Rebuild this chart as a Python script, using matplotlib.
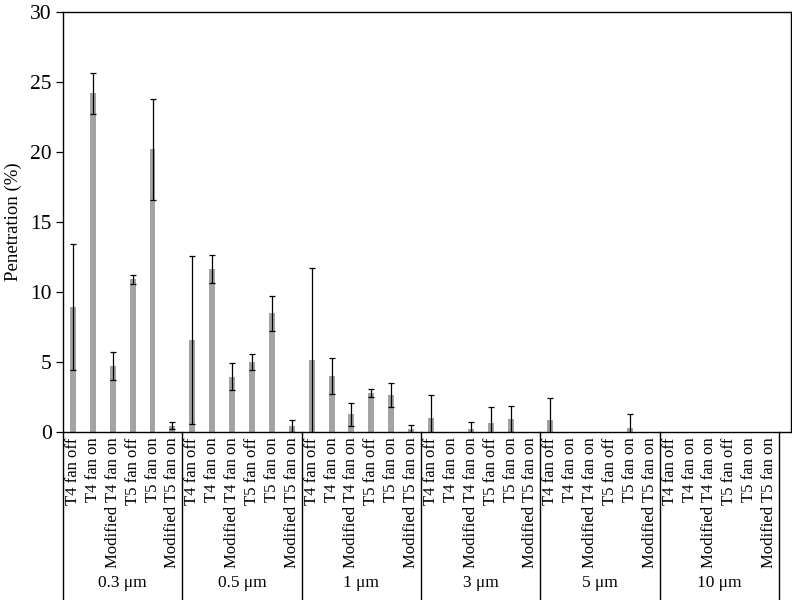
import matplotlib
matplotlib.use('Agg')
import matplotlib.pyplot as plt
import numpy as np

plt.rcParams['font.family'] = ['Liberation Serif', 'DejaVu Serif']

# 数据：各粒径组 × 6 种工况
sizes = ['0.3 μm', '0.5 μm', '1 μm', '3 μm', '5 μm', '10 μm']
conditions = ['T4 fan off', 'T4 fan on', 'Modified T4 fan on',
              'T5 fan off', 'T5 fan on', 'Modified T5 fan on']

pen_03 = [8.9, 24.2, 4.75, 10.9, 20.2, 0.45]
err_03 = [4.5, 1.45, 1.0, 0.3, 3.6, 0.25]
pen_05 = [6.6, 11.67, 3.95, 5.0, 8.5, 0.43]
err_05 = [6.0, 1.0, 0.95, 0.6, 1.25, 0.43]
pen_1 = [5.14, 4.0, 1.26, 2.76, 2.67, 0.21]
err_1 = [6.6, 1.3, 0.8, 0.28, 0.85, 0.3]
pen_3 = [0.98, 0.0, 0.21, 0.64, 0.93, 0.0]
err_3 = [1.65, 0.0, 0.52, 1.16, 0.93, 0.0]
pen_5 = [0.86, 0.0, 0.0, 0.0, 0.31, 0.0]
err_5 = [1.55, 0.0, 0.0, 0.0, 0.98, 0.0]
pen_10 = [0.0, 0.0, 0.0, 0.0, 0.0, 0.0]
err_10 = [0.0, 0.0, 0.0, 0.0, 0.0, 0.0]

values = np.array(pen_03 + pen_05 + pen_1 + pen_3 + pen_5 + pen_10)
errors = np.array(err_03 + err_05 + err_1 + err_3 + err_5 + err_10)
n_cond = len(conditions)
x = np.arange(len(values)) + 0.5

fig = plt.figure(figsize=(7.92, 6.0), dpi=100)
ax = fig.add_axes([63 / 792, 1 - 432 / 600, 728 / 792, 420 / 600])

ax.bar(x, values, width=0.3, color='#a3a3a3', zorder=2)
m = values > 0
ax.errorbar(x[m], values[m], yerr=errors[m], fmt='none', ecolor='black',
            elinewidth=0.9, capsize=2.4, capthick=0.9, zorder=3)

ax.set_xlim(0, 36.6)
ax.set_ylim(0, 30)
ax.set_yticks(np.arange(0, 31, 5))
ax.tick_params(axis='y', direction='out', length=5, width=0.9, labelsize=15.5, pad=3)
ax.set_ylabel('Penetration (%)', fontsize=13.5, labelpad=6)

ax.set_xticks(x)
ax.set_xticklabels(conditions * len(sizes), rotation=90, fontsize=12, va='top')
ax.tick_params(axis='x', length=0, pad=4)

for s in ax.spines.values():
    s.set_linewidth(1.0)

# 分组竖线与组标签
for g in range(len(sizes) + 1):
    ax.plot([g * n_cond, g * n_cond], [0, -0.45], transform=ax.get_xaxis_transform(),
            color='black', linewidth=1.0, clip_on=False)
for g, name in enumerate(sizes):
    ax.text(g * n_cond + n_cond / 2, -0.36, name, transform=ax.get_xaxis_transform(),
            ha='center', va='center', fontsize=12.5)

fig.savefig('out.png', dpi=100)
